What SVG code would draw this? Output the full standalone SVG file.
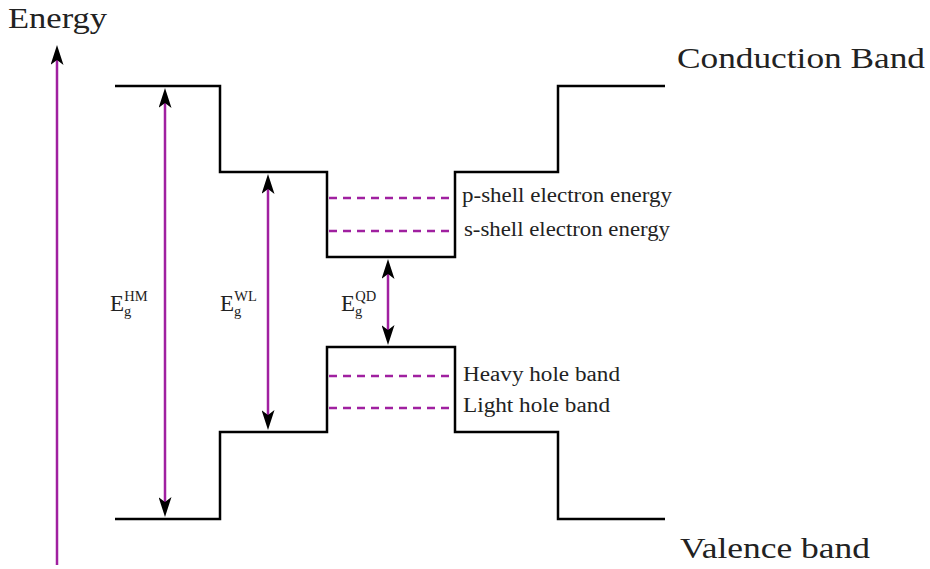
<svg xmlns="http://www.w3.org/2000/svg" width="930" height="569" viewBox="0 0 930 569">
<defs>
<style>
.band{fill:none;stroke:#000;stroke-width:2.5;stroke-linejoin:miter}
.arr{stroke:#A020A0;stroke-width:2.5;fill:none}
.dash{stroke:#A020A0;stroke-width:2.5;stroke-dasharray:8,6;fill:none}
text{font-family:"Liberation Serif","DejaVu Serif",serif;fill:#222}
.big{font-size:30px}
.lab{font-size:20px}
.eg{font-size:23px}
.sup{font-size:14.5px}
</style>
<marker id="ah" viewBox="0 0 20 13" refX="12" refY="6.5" markerWidth="20" markerHeight="13" markerUnits="userSpaceOnUse" orient="auto-start-reverse">
<path d="M0,0 L20,6.5 L0,13 L5,6.5 Z" fill="#000"/>
</marker>
</defs>
<rect width="930" height="569" fill="#fff"/>
<g id="axis">
<line class="arr" x1="57" y1="565" x2="57" y2="53" marker-end="url(#ah)"/>
<text class="big" x="8" y="28" textLength="99" lengthAdjust="spacingAndGlyphs">Energy</text>
</g>
<g id="conduction-band">
<polyline class="band" points="115,86 220,86 220,172 327,172 327,257 455,257 455,172 558,172 558,86 665,86"/>
<text class="big" x="677" y="68" textLength="248" lengthAdjust="spacingAndGlyphs">Conduction Band</text>
</g>
<g id="valence-band">
<polyline class="band" points="115,519 220,519 220,432 327,432 327,347 455,347 455,432 558,432 558,519 665,519"/>
<text class="big" x="680" y="558" textLength="190" lengthAdjust="spacingAndGlyphs">Valence band</text>
</g>
<g id="levels">
<line class="dash" x1="329" y1="198" x2="453" y2="198"/>
<line class="dash" x1="329" y1="231" x2="453" y2="231"/>
<line class="dash" x1="329" y1="376" x2="453" y2="376"/>
<line class="dash" x1="329" y1="408" x2="453" y2="408"/>
<text class="lab" x="462" y="202" textLength="210" lengthAdjust="spacingAndGlyphs">p-shell electron energy</text>
<text class="lab" x="464" y="236" textLength="206" lengthAdjust="spacingAndGlyphs">s-shell electron energy</text>
<text class="lab" x="463" y="381" textLength="157" lengthAdjust="spacingAndGlyphs">Heavy hole band</text>
<text class="lab" x="463" y="412" textLength="147" lengthAdjust="spacingAndGlyphs">Light hole band</text>
</g>
<g id="connectors">
<line class="arr" x1="165" y1="96" x2="165" y2="509" marker-start="url(#ah)" marker-end="url(#ah)"/>
<line class="arr" x1="268" y1="182" x2="268" y2="422" marker-start="url(#ah)" marker-end="url(#ah)"/>
<line class="arr" x1="388" y1="267" x2="388" y2="337" marker-start="url(#ah)" marker-end="url(#ah)"/>
</g>
<g id="gap-labels">
<text class="eg" x="110" y="311">E<tspan class="sup" dy="5">g</tspan><tspan class="sup" dx="-7" dy="-15">HM</tspan></text>
<text class="eg" x="220" y="311">E<tspan class="sup" dy="5">g</tspan><tspan class="sup" dx="-7" dy="-15">WL</tspan></text>
<text class="eg" x="341" y="311">E<tspan class="sup" dy="5">g</tspan><tspan class="sup" dx="-7" dy="-15">QD</tspan></text>
</g>
</svg>
